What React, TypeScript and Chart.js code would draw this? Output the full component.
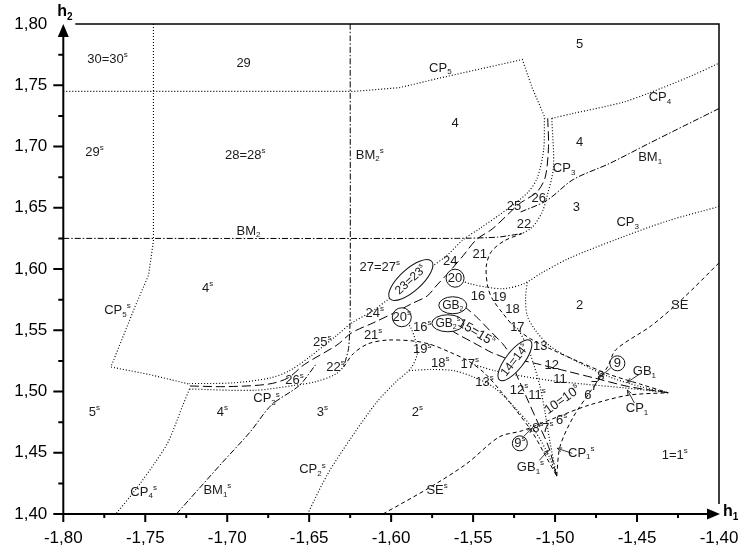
import React, { useEffect, useRef } from "react";
import { Chart, registerables } from "chart.js";

Chart.register(...registerables);

type P = [number, number];

const FONT = '"Liberation Sans", Arial, sans-serif';

// axis ticks
const X_TICKS = [-1.8, -1.75, -1.7, -1.65, -1.6, -1.55, -1.5, -1.45, -1.4];
const X_TICK_LABELS = ["-1,80", "-1,75", "-1,70", "-1,65", "-1,60", "-1,55", "-1,50", "-1,45", "-1,40"];
const Y_TICKS = [1.4, 1.45, 1.5, 1.55, 1.6, 1.65, 1.7, 1.75, 1.8];
const Y_TICK_LABELS = ["1,40", "1,45", "1,50", "1,55", "1,60", "1,65", "1,70", "1,75", "1,80"];
const X_MINOR = [-1.775, -1.725, -1.675, -1.625, -1.575, -1.525, -1.475, -1.425];
const Y_MINOR = [1.425, 1.475, 1.525, 1.575, 1.625, 1.675, 1.725, 1.775];

// bifurcation curves (h1, h2)
const CP5: P[] = [[-1.8, 1.745], [-1.623, 1.745], [-1.595, 1.748], [-1.57, 1.756], [-1.54, 1.765], [-1.52, 1.771], [-1.514, 1.748], [-1.506, 1.723]];
const CP5s: P[] = [[-1.745, 1.8], [-1.745, 1.623], [-1.748, 1.595], [-1.756, 1.57], [-1.765, 1.54], [-1.771, 1.52], [-1.748, 1.514], [-1.723, 1.506]];
const CP4: P[] = [[-1.502, 1.723], [-1.489, 1.727], [-1.459, 1.736], [-1.442, 1.744], [-1.418, 1.757], [-1.4, 1.768]];
const CP4s: P[] = [[-1.723, 1.502], [-1.727, 1.489], [-1.736, 1.459], [-1.744, 1.442], [-1.757, 1.418], [-1.768, 1.4]];
const BM2: P[] = [[-1.8, 1.625], [-1.56, 1.625], [-1.535, 1.626], [-1.52, 1.629]];
const BM2s: P[] = [[-1.625, 1.8], [-1.625, 1.56], [-1.626, 1.535], [-1.629, 1.52]];
const BM1: P[] = [[-1.4, 1.731], [-1.442, 1.703], [-1.467, 1.686], [-1.489, 1.673], [-1.505, 1.656], [-1.522, 1.646]];
const BM1s: P[] = [[-1.731, 1.4], [-1.703, 1.442], [-1.686, 1.467], [-1.673, 1.489], [-1.656, 1.505], [-1.646, 1.522]];
const CP3_OUTER: P[] = [[-1.5065, 1.723], [-1.507, 1.697], [-1.511, 1.674], [-1.517, 1.662], [-1.529, 1.649], [-1.546, 1.633], [-1.556, 1.624], [-1.566, 1.611], [-1.575, 1.602], [-1.583, 1.593], [-1.588, 1.588], [-1.593, 1.583], [-1.602, 1.575], [-1.611, 1.566], [-1.624, 1.556], [-1.633, 1.546], [-1.649, 1.529], [-1.662, 1.517], [-1.674, 1.511], [-1.697, 1.507], [-1.723, 1.5065]];
const CP3_MID: P[] = [[-1.5045, 1.723], [-1.504, 1.7], [-1.506, 1.675], [-1.511, 1.663], [-1.522, 1.653], [-1.538, 1.633], [-1.548, 1.624], [-1.556, 1.611], [-1.565, 1.597], [-1.572, 1.587], [-1.578, 1.578], [-1.587, 1.572], [-1.597, 1.565], [-1.611, 1.556], [-1.624, 1.548], [-1.633, 1.538], [-1.653, 1.522], [-1.663, 1.511], [-1.675, 1.506], [-1.7, 1.504], [-1.723, 1.5045]];
const CP3_INNER: P[] = [[-1.502, 1.723], [-1.501, 1.683], [-1.505, 1.659], [-1.508, 1.646], [-1.514, 1.634], [-1.52, 1.629]];
const CP3_INNERs: P[] = [[-1.723, 1.502], [-1.683, 1.501], [-1.659, 1.505], [-1.646, 1.508], [-1.634, 1.514], [-1.629, 1.52]];
const D1: P[] = [[-1.52, 1.629], [-1.531, 1.623], [-1.539, 1.614], [-1.542, 1.602], [-1.541, 1.585], [-1.538, 1.575], [-1.532, 1.564], [-1.525, 1.553], [-1.515, 1.543], [-1.5, 1.533], [-1.485, 1.524], [-1.467, 1.514], [-1.448, 1.506], [-1.431, 1.499]];
const D1s: P[] = [[-1.629, 1.52], [-1.623, 1.531], [-1.614, 1.539], [-1.602, 1.542], [-1.585, 1.541], [-1.575, 1.538], [-1.564, 1.532], [-1.553, 1.525], [-1.543, 1.515], [-1.533, 1.5], [-1.524, 1.485], [-1.514, 1.467], [-1.506, 1.448], [-1.499, 1.431]];
const CP2: P[] = [[-1.4, 1.651], [-1.432, 1.639], [-1.461, 1.625], [-1.491, 1.609], [-1.508, 1.597], [-1.519, 1.588], [-1.531, 1.584], [-1.541, 1.585], [-1.552, 1.588], [-1.558, 1.591]];
const CP2s: P[] = [[-1.651, 1.4], [-1.639, 1.432], [-1.625, 1.461], [-1.609, 1.491], [-1.597, 1.508], [-1.588, 1.519], [-1.584, 1.531], [-1.585, 1.541], [-1.588, 1.552], [-1.591, 1.558]];
const G2: P[] = [[-1.517, 1.589], [-1.518, 1.576], [-1.517, 1.562], [-1.512, 1.55], [-1.503, 1.537], [-1.486, 1.524], [-1.467, 1.512], [-1.448, 1.504], [-1.431, 1.499]];
const G2s: P[] = [[-1.589, 1.517], [-1.576, 1.518], [-1.562, 1.517], [-1.55, 1.512], [-1.537, 1.503], [-1.524, 1.486], [-1.512, 1.467], [-1.504, 1.448], [-1.499, 1.431]];
const F2: P[] = [[-1.431, 1.499], [-1.455, 1.504], [-1.476, 1.511], [-1.494, 1.517], [-1.509, 1.522], [-1.525, 1.528], [-1.532, 1.539], [-1.54, 1.55], [-1.548, 1.561], [-1.555, 1.569]];
const F2s: P[] = [[-1.499, 1.431], [-1.504, 1.455], [-1.511, 1.476], [-1.517, 1.494], [-1.522, 1.509], [-1.528, 1.525], [-1.539, 1.532], [-1.55, 1.54], [-1.561, 1.548], [-1.569, 1.555]];
const F3: P[] = [[-1.431, 1.499], [-1.458, 1.503], [-1.482, 1.506], [-1.503, 1.509], [-1.522, 1.513], [-1.537, 1.517], [-1.552, 1.523]];
const F3s: P[] = [[-1.499, 1.431], [-1.503, 1.458], [-1.506, 1.482], [-1.509, 1.503], [-1.513, 1.522], [-1.517, 1.537], [-1.523, 1.552]];
const SE: P[] = [[-1.4, 1.605], [-1.422, 1.576], [-1.441, 1.554], [-1.463, 1.534], [-1.468, 1.52], [-1.479, 1.499], [-1.489, 1.479], [-1.497, 1.455], [-1.499, 1.431]];
const SEs: P[] = [[-1.605, 1.4], [-1.576, 1.422], [-1.554, 1.441], [-1.534, 1.463], [-1.52, 1.468], [-1.499, 1.479], [-1.479, 1.489], [-1.455, 1.497], [-1.431, 1.499]];

const DASH: Record<string, number[]> = {
  dot: [1, 2],
  dashDot: [6, 2, 1.5, 2],
  dash: [4, 3],
  long: [9, 4],
};

const CURVES: { pts: P[]; style: string; tension: number }[] = [
  { pts: CP5, style: "dot", tension: 0 },
  { pts: CP5s, style: "dot", tension: 0 },
  { pts: CP4, style: "dot", tension: 0.3 },
  { pts: CP4s, style: "dot", tension: 0.3 },
  { pts: BM2, style: "dashDot", tension: 0.2 },
  { pts: BM2s, style: "dashDot", tension: 0.2 },
  { pts: BM1, style: "dashDot", tension: 0.3 },
  { pts: BM1s, style: "dashDot", tension: 0.3 },
  { pts: CP3_OUTER, style: "dot", tension: 0.3 },
  { pts: CP3_MID, style: "long", tension: 0.3 },
  { pts: CP3_INNER, style: "dot", tension: 0.3 },
  { pts: CP3_INNERs, style: "dot", tension: 0.3 },
  { pts: D1, style: "dash", tension: 0.3 },
  { pts: D1s, style: "dash", tension: 0.3 },
  { pts: CP2, style: "dot", tension: 0.3 },
  { pts: CP2s, style: "dot", tension: 0.3 },
  { pts: G2, style: "dot", tension: 0.3 },
  { pts: G2s, style: "dot", tension: 0.3 },
  { pts: F2, style: "long", tension: 0.3 },
  { pts: F2s, style: "long", tension: 0.3 },
  { pts: F3, style: "dot", tension: 0.3 },
  { pts: F3s, style: "dot", tension: 0.3 },
  { pts: SE, style: "dash", tension: 0.3 },
  { pts: SEs, style: "dash", tension: 0.3 },
];

type Lbl = { t: string; x: number; y: number; rot?: number; shape?: "circle" | "ellipse"; rx?: number; ry?: number };

const LABELS: Lbl[] = [
  { t: "30=30^s", x: -1.773, y: 1.771 },
  { t: "29", x: -1.69, y: 1.768 },
  { t: "29^s", x: -1.781, y: 1.695 },
  { t: "28=28^s", x: -1.689, y: 1.693 },
  { t: "BM_2^s", x: -1.613, y: 1.693 },
  { t: "CP_5", x: -1.57, y: 1.764 },
  { t: "4", x: -1.561, y: 1.719 },
  { t: "5", x: -1.485, y: 1.783 },
  { t: "CP_4", x: -1.436, y: 1.74 },
  { t: "4", x: -1.485, y: 1.703 },
  { t: "BM_1", x: -1.442, y: 1.691 },
  { t: "CP_3", x: -1.4945, y: 1.682 },
  { t: "26", x: -1.51, y: 1.658 },
  { t: "25", x: -1.525, y: 1.651 },
  { t: "22", x: -1.519, y: 1.636 },
  { t: "3", x: -1.487, y: 1.65 },
  { t: "CP_3", x: -1.4557, y: 1.638 },
  { t: "21", x: -1.546, y: 1.612 },
  { t: "24", x: -1.564, y: 1.606 },
  { t: "27=27^s", x: -1.607, y: 1.601 },
  { t: "23=23^s", x: -1.588, y: 1.591, rot: -42, shape: "ellipse", rx: 28, ry: 11 },
  { t: "20", x: -1.561, y: 1.5925, shape: "circle", rx: 9 },
  { t: "16", x: -1.547, y: 1.578 },
  { t: "19", x: -1.534, y: 1.577 },
  { t: "18", x: -1.526, y: 1.567 },
  { t: "17", x: -1.523, y: 1.552 },
  { t: "GB_2", x: -1.5624, y: 1.5704, shape: "ellipse", rx: 14, ry: 8.5 },
  { t: "GB_2^s", x: -1.5654, y: 1.5557, shape: "ellipse", rx: 16, ry: 8.5 },
  { t: "20^s", x: -1.5935, y: 1.5606, shape: "circle", rx: 9.5 },
  { t: "24^s", x: -1.61, y: 1.564 },
  { t: "21^s", x: -1.611, y: 1.546 },
  { t: "16^s", x: -1.581, y: 1.552 },
  { t: "15=15^s", x: -1.548, y: 1.548, rot: 31 },
  { t: "19^s", x: -1.581, y: 1.534 },
  { t: "18^s", x: -1.57, y: 1.523 },
  { t: "17^s", x: -1.552, y: 1.522 },
  { t: "14=14^s", x: -1.5245, y: 1.5255, rot: -52, shape: "ellipse", rx: 25, ry: 9 },
  { t: "13", x: -1.509, y: 1.537 },
  { t: "13^s", x: -1.543, y: 1.5075 },
  { t: "12", x: -1.502, y: 1.521 },
  { t: "11", x: -1.497, y: 1.51 },
  { t: "12^s", x: -1.522, y: 1.501 },
  { t: "11^s", x: -1.511, y: 1.497 },
  { t: "10=10^s", x: -1.4955, y: 1.493, rot: -35 },
  { t: "6", x: -1.48, y: 1.497 },
  { t: "9", x: -1.462, y: 1.523, shape: "circle", rx: 7.5 },
  { t: "8", x: -1.472, y: 1.512 },
  { t: "7", x: -1.476, y: 1.504 },
  { t: "GB_1", x: -1.4455, y: 1.516 },
  { t: "CP_1", x: -1.45, y: 1.486 },
  { t: "2", x: -1.485, y: 1.57 },
  { t: "SE", x: -1.424, y: 1.57 },
  { t: "6^s", x: -1.496, y: 1.4765 },
  { t: "8^s", x: -1.5105, y: 1.47 },
  { t: "7^s", x: -1.5044, y: 1.47 },
  { t: "9^s", x: -1.5215, y: 1.4577, shape: "circle", rx: 7.5 },
  { t: "GB_1^s", x: -1.515, y: 1.438 },
  { t: "CP_1^s", x: -1.484, y: 1.4495 },
  { t: "1=1^s", x: -1.427, y: 1.448 },
  { t: "BM_2", x: -1.687, y: 1.631 },
  { t: "CP_5^s", x: -1.767, y: 1.566 },
  { t: "4^s", x: -1.712, y: 1.584 },
  { t: "5^s", x: -1.781, y: 1.483 },
  { t: "4^s", x: -1.703, y: 1.483 },
  { t: "CP_4^s", x: -1.751, y: 1.418 },
  { t: "BM_1^s", x: -1.706, y: 1.419 },
  { t: "CP_3^s", x: -1.676, y: 1.494 },
  { t: "3^s", x: -1.642, y: 1.483 },
  { t: "2^s", x: -1.584, y: 1.483 },
  { t: "CP_2^s", x: -1.648, y: 1.436 },
  { t: "SE^s", x: -1.572, y: 1.419 },
  { t: "25^s", x: -1.642, y: 1.54 },
  { t: "22^s", x: -1.634, y: 1.52 },
  { t: "26^s", x: -1.659, y: 1.509 },
];

// pointer lines from labels to points
const ARROWS: [P, P][] = [
  [[-1.4516, 1.4906], [-1.4559, 1.5012]],
  [[-1.4486, 1.5141], [-1.4559, 1.5075]],
  [[-1.4895, 1.4495], [-1.4987, 1.4536]],
  [[-1.5096, 1.4438], [-1.5041, 1.452]],
  [[-1.4662, 1.519], [-1.473, 1.5116]],
  [[-1.5191, 1.4634], [-1.5142, 1.4699]],
];

type Seg = { s: string; k: "n" | "sub" | "sup"; w?: number };
function parse(t: string): Seg[] {
  const out: Seg[] = [];
  for (let i = 0; i < t.length; i++) {
    const c = t[i];
    if ((c === "_" || c === "^") && i + 1 < t.length) {
      out.push({ s: t[i + 1], k: c === "_" ? "sub" : "sup" });
      i++;
    } else if (out.length && out[out.length - 1].k === "n") {
      out[out.length - 1].s += c;
    } else {
      out.push({ s: c, k: "n" });
    }
  }
  return out;
}

function drawRich(ctx: CanvasRenderingContext2D, t: string, cx: number, cy: number, size: number, bold: boolean, align: "center" | "left" = "center") {
  const parts = parse(t);
  const fontFor = (k: string) => `${bold ? "bold " : ""}${k === "n" ? size : Math.round(size * 0.6)}px ${FONT}`;
  let w = 0;
  for (const p of parts) {
    ctx.font = fontFor(p.k);
    p.w = ctx.measureText(p.s).width;
    w += p.w;
  }
  let x = align === "center" ? cx - w / 2 : cx;
  ctx.textAlign = "left";
  ctx.textBaseline = "middle";
  for (const p of parts) {
    ctx.font = fontFor(p.k);
    const dy = p.k === "sub" ? size * 0.3 : p.k === "sup" ? -size * 0.35 : 0;
    ctx.fillText(p.s, x, cy + dy);
    x += p.w || 0;
  }
}

const annotations = {
  id: "annotations",
  afterDraw(chart: any) {
    const ctx: CanvasRenderingContext2D = chart.ctx;
    const xs = chart.scales.x;
    const ys = chart.scales.y;
    const X = (v: number) => xs.getPixelForValue(v);
    const Y = (v: number) => ys.getPixelForValue(v);
    const { left, right, top, bottom } = chart.chartArea;
    ctx.save();

    // frame
    ctx.strokeStyle = "#000";
    ctx.lineWidth = 1.5;
    ctx.setLineDash([]);
    ctx.beginPath();
    ctx.moveTo(left + 12, top);
    ctx.lineTo(right, top);
    ctx.lineTo(right, bottom - 10);
    ctx.stroke();

    // axes
    ctx.lineWidth = 2;
    ctx.beginPath();
    ctx.moveTo(left, bottom);
    ctx.lineTo(left, top + 8);
    ctx.moveTo(left, bottom);
    ctx.lineTo(right - 8, bottom);
    ctx.stroke();
    ctx.fillStyle = "#000";
    ctx.beginPath();
    ctx.moveTo(left, top);
    ctx.lineTo(left - 5.5, top + 13);
    ctx.lineTo(left + 5.5, top + 13);
    ctx.closePath();
    ctx.fill();
    ctx.beginPath();
    ctx.moveTo(right + 1, bottom);
    ctx.lineTo(right - 12, bottom - 5.5);
    ctx.lineTo(right - 12, bottom + 5.5);
    ctx.closePath();
    ctx.fill();

    // ticks
    ctx.lineWidth = 2;
    ctx.beginPath();
    Y_TICKS.forEach((v, i) => {
      if (i === Y_TICKS.length - 1) return;
      const py = Y(v);
      ctx.moveTo(left - 10, py);
      ctx.lineTo(left, py);
    });
    Y_MINOR.forEach((v) => {
      const py = Y(v);
      ctx.moveTo(left - 5, py);
      ctx.lineTo(left, py);
    });
    X_TICKS.forEach((v, i) => {
      if (i === X_TICKS.length - 1) return;
      const px = X(v);
      ctx.moveTo(px, bottom);
      ctx.lineTo(px, bottom + 8);
    });
    X_MINOR.forEach((v) => {
      const px = X(v);
      ctx.moveTo(px, bottom);
      ctx.lineTo(px, bottom + 4);
    });
    ctx.stroke();

    // tick labels
    ctx.fillStyle = "#000";
    ctx.font = `17px ${FONT}`;
    ctx.textBaseline = "middle";
    ctx.textAlign = "right";
    Y_TICKS.forEach((v, i) => ctx.fillText(Y_TICK_LABELS[i], left - 16, Y(v)));
    ctx.textAlign = "center";
    X_TICKS.forEach((v, i) => ctx.fillText(X_TICK_LABELS[i], X(v), bottom + 24));

    // axis titles
    drawRich(ctx, "h_2", left - 6, top - 12, 16, true, "left");
    drawRich(ctx, "h_1", right + 4, bottom - 2, 16, true, "left");

    // pointer lines
    ctx.strokeStyle = "#222";
    ctx.lineWidth = 0.9;
    ARROWS.forEach(([a, b]) => {
      const x1 = X(a[0]), y1 = Y(a[1]), x2 = X(b[0]), y2 = Y(b[1]);
      ctx.beginPath();
      ctx.moveTo(x1, y1);
      ctx.lineTo(x2, y2);
      ctx.stroke();
      const ang = Math.atan2(y2 - y1, x2 - x1);
      ctx.beginPath();
      ctx.moveTo(x2, y2);
      ctx.lineTo(x2 - 5 * Math.cos(ang - 0.4), y2 - 5 * Math.sin(ang - 0.4));
      ctx.moveTo(x2, y2);
      ctx.lineTo(x2 - 5 * Math.cos(ang + 0.4), y2 - 5 * Math.sin(ang + 0.4));
      ctx.stroke();
    });

    // region labels
    LABELS.forEach((l) => {
      const px = X(l.x);
      const py = Y(l.y);
      ctx.save();
      ctx.translate(px, py);
      if (l.rot) ctx.rotate((l.rot * Math.PI) / 180);
      if (l.shape) {
        ctx.beginPath();
        const rx = l.rx || 8;
        const ry = l.shape === "circle" ? rx : l.ry || 8;
        ctx.ellipse(0, 0, rx, ry, 0, 0, Math.PI * 2);
        ctx.fillStyle = "#fff";
        ctx.fill();
        ctx.strokeStyle = "#111";
        ctx.lineWidth = 1;
        ctx.stroke();
      }
      ctx.fillStyle = "#1a1a1a";
      drawRich(ctx, l.t, 0, 0, l.shape === "ellipse" ? 12 : 13, false);
      ctx.restore();
    });

    ctx.restore();
  },
};

export default function App() {
  const ref = useRef<HTMLCanvasElement | null>(null);
  useEffect(() => {
    if (!ref.current) return;
    const chart = new Chart(ref.current, {
      type: "scatter",
      data: {
        datasets: CURVES.map((c) => ({
          data: c.pts.map(([x, y]) => ({ x, y })),
          showLine: true,
          borderColor: "#000",
          borderWidth: c.style === "dot" ? 1.15 : 1,
          borderDash: DASH[c.style],
          pointRadius: 0,
          pointHoverRadius: 0,
          tension: c.tension,
          fill: false,
        })),
      },
      options: {
        animation: false,
        responsive: false,
        devicePixelRatio: 1,
        events: [],
        layout: { padding: { left: 63.3, right: 23, top: 24, bottom: 40 } },
        scales: {
          x: { type: "linear", min: -1.8, max: -1.4, display: false },
          y: { type: "linear", min: 1.4, max: 1.8, display: false },
        },
        plugins: { legend: { display: false }, tooltip: { enabled: false } },
      },
      plugins: [annotations],
    } as any);
    return () => chart.destroy();
  }, []);
  return (
    <div style={{ position: "absolute", left: 0, top: 0, width: 742, height: 554, background: "#fff" }}>
      <canvas ref={ref} width={742} height={554} style={{ display: "block" }} />
    </div>
  );
}
